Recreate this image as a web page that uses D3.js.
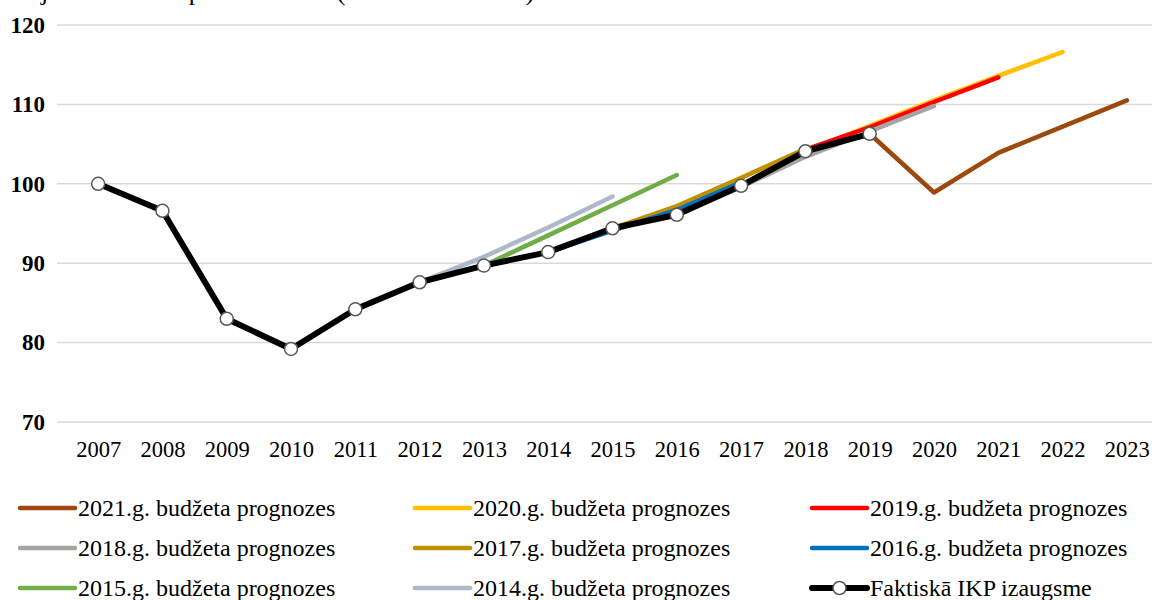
<!DOCTYPE html>
<html>
<head>
<meta charset="utf-8">
<script src="https://cdn.jsdelivr.net/npm/d3@7"></script>
<style>
  html, body { margin: 0; padding: 0; background: #fff; }
  svg { display: block; font-family: "Liberation Serif", "Times New Roman", serif; }
</style>
</head>
<body>
<svg id="chart" width="1152" height="600"></svg>
<script>
// Years on the category axis
const years = [2007, 2008, 2009, 2010, 2011, 2012, 2013, 2014, 2015,
               2016, 2017, 2018, 2019, 2020, 2021, 2022, 2023];

// Actual GDP index, 2007 = 100
const actualYears  = [2007, 2008, 2009, 2010, 2011, 2012, 2013, 2014, 2015, 2016, 2017, 2018, 2019];
const actualValues = [100, 96.6, 83.0, 79.2, 84.2, 87.6, 89.7, 91.4, 94.4, 96.1, 99.75, 104.1, 106.3];

// Budget forecasts (each starts from the last known actual value)
const f2021Years = [2019, 2020, 2021, 2022, 2023];
const f2021 = [106.3, 98.9, 103.9, 107.2, 110.5];
const f2020Years = [2018, 2019, 2020, 2021, 2022];
const f2020 = [104.1, 107.3, 110.5, 113.6, 116.6];
const f2019Years = [2017, 2018, 2019, 2020, 2021];
const f2019 = [99.75, 104.3, 107.1, 110.3, 113.4];
const f2018Years = [2016, 2017, 2018, 2019, 2020];
const f2018 = [96.1, 99.6, 103.4, 106.6, 109.8];
const f2017Years = [2015, 2016, 2017, 2018];
const f2017 = [94.4, 97.2, 100.75, 104.4];
const f2016Years = [2014, 2015, 2016, 2017];
const f2016 = [91.4, 94.1, 96.7, 100.2];
const f2015Years = [2013, 2014, 2015, 2016];
const f2015 = [89.7, 93.5, 97.3, 101.1];
const f2014Years = [2012, 2013, 2014, 2015];
const f2014 = [87.6, 90.8, 94.5, 98.4];

const yTicks = [70, 80, 90, 100, 110, 120];

const forecasts = [
  { name: "2021.g. budžeta prognozes", years: f2021Years, values: f2021, color: "#9e480e" },
  { name: "2020.g. budžeta prognozes", years: f2020Years, values: f2020, color: "#ffc000" },
  { name: "2019.g. budžeta prognozes", years: f2019Years, values: f2019, color: "#ff0000" },
  { name: "2018.g. budžeta prognozes", years: f2018Years, values: f2018, color: "#a5a5a5" },
  { name: "2017.g. budžeta prognozes", years: f2017Years, values: f2017, color: "#bf9000" },
  { name: "2016.g. budžeta prognozes", years: f2016Years, values: f2016, color: "#0070c0" },
  { name: "2015.g. budžeta prognozes", years: f2015Years, values: f2015, color: "#70ad47" },
  { name: "2014.g. budžeta prognozes", years: f2014Years, values: f2014, color: "#adb9ca" }
];
const actualName = "Faktiskā IKP izaugsme";

const svg = d3.select("#chart");

const x = d3.scalePoint().domain(years).range([66, 1159]).padding(0.5);
const y = d3.scaleLinear().domain([70, 120]).range([422, 25]);

// Title (mostly above the top edge of the page)
svg.append("text")
  .attr("x", 15).attr("y", 0)
  .attr("font-size", 26)
  .attr("fill", "#000")
  .text("Atjaunotais IKP pamatindekss (bāze: 2007 = 100)");

// Horizontal gridlines
svg.append("g")
  .selectAll("line")
  .data(yTicks)
  .join("line")
  .attr("x1", 57).attr("x2", 1152)
  .attr("y1", d => y(d)).attr("y2", d => y(d))
  .attr("stroke", "#d9d9d9")
  .attr("stroke-width", 1.5);

// Y axis labels
const yAxis = d3.axisLeft(y).tickValues(yTicks).tickSize(0).tickPadding(0);
svg.append("g")
  .attr("transform", "translate(45,0)")
  .call(yAxis)
  .call(g => g.select(".domain").remove())
  .call(g => g.selectAll("text")
    .attr("font-family", "'Liberation Serif', serif")
    .attr("font-size", 23)
    .attr("font-weight", "bold")
    .attr("fill", "#000"));

// X axis labels
const xAxis = d3.axisBottom(x).tickSize(0).tickPadding(0);
svg.append("g")
  .attr("transform", "translate(0,441)")
  .call(xAxis)
  .call(g => g.select(".domain").remove())
  .call(g => g.selectAll("text")
    .attr("font-family", "'Liberation Serif', serif")
    .attr("font-size", 22.5)
    .attr("fill", "#000"));

const line = d3.line()
  .x(d => x(d[0]))
  .y(d => y(d[1]));

// Forecast lines
svg.append("g")
  .selectAll("path")
  .data(forecasts)
  .join("path")
  .attr("d", s => line(d3.zip(s.years, s.values)))
  .attr("fill", "none")
  .attr("stroke", s => s.color)
  .attr("stroke-width", 4.5)
  .attr("stroke-linecap", "round")
  .attr("stroke-linejoin", "round");

// Actual line with markers
const actualPts = d3.zip(actualYears, actualValues);
svg.append("path")
  .attr("d", line(actualPts))
  .attr("fill", "none")
  .attr("stroke", "#000")
  .attr("stroke-width", 6)
  .attr("stroke-linejoin", "round");

svg.append("g")
  .selectAll("circle")
  .data(actualPts)
  .join("circle")
  .attr("cx", d => x(d[0]))
  .attr("cy", d => y(d[1]))
  .attr("r", 6.5)
  .attr("fill", "#fff")
  .attr("stroke", "#595959")
  .attr("stroke-width", 1.5);

// Legend: three columns, three rows
const legendItems = forecasts.map(f => ({ name: f.name, color: f.color, actual: false }))
  .concat([{ name: actualName, color: "#000", actual: true }]);
const colX = [20, 415, 812];
const rowY = [508, 548, 588];

const lg = svg.append("g")
  .selectAll("g")
  .data(legendItems)
  .join("g")
  .attr("transform", (d, i) => `translate(${colX[i % 3]},${rowY[Math.floor(i / 3)]})`);

lg.append("line")
  .attr("x1", 0).attr("x2", 55)
  .attr("y1", 0).attr("y2", 0)
  .attr("stroke", d => d.color)
  .attr("stroke-width", d => d.actual ? 6 : 4.5)
  .attr("stroke-linecap", "round");

lg.filter(d => d.actual)
  .append("circle")
  .attr("cx", 27.5).attr("cy", 0).attr("r", 6.5)
  .attr("fill", "#fff")
  .attr("stroke", "#595959")
  .attr("stroke-width", 1.5);

lg.append("text")
  .attr("x", 58).attr("y", 0)
  .attr("dy", "0.35em")
  .attr("font-size", 24)
  .attr("fill", "#000")
  .text(d => d.name);
</script>
</body>
</html>
